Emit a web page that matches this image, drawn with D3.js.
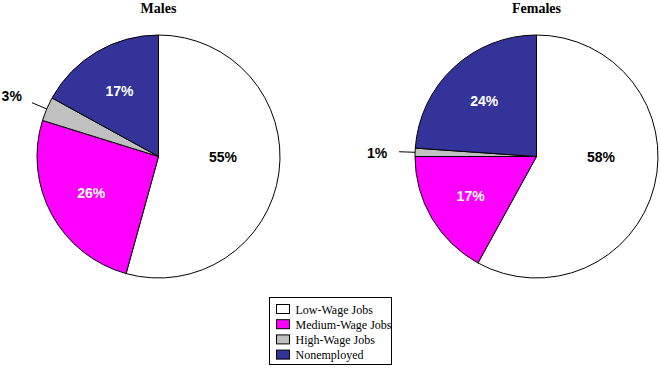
<!DOCTYPE html>
<html>
<head>
<meta charset="utf-8">
<script src="https://cdn.jsdelivr.net/npm/d3@7"></script>
<style>
  body { margin: 0; background: #fff; }
</style>
</head>
<body>
<script>
const categories = ['Low-Wage Jobs', 'Medium-Wage Jobs', 'High-Wage Jobs', 'Nonemployed'];
const malesValues = [54.3, 25.5, 3.2, 17];
const malesLabels = ['55%', '26%', '3%', '17%'];
const femalesValues = [58, 17, 1.1, 23.9];
const femalesLabels = ['58%', '17%', '1%', '24%'];
const colors = ['#FFFFFF', '#FF00FF', '#C0C0C0', '#333399'];
const labelColors = ['#000', '#fff', '#000', '#fff'];

const width = 661;
const height = 368;
const radius = 121.5;

const svg = d3.select('body').append('svg')
  .attr('width', width)
  .attr('height', height);

const color = d3.scaleOrdinal().domain(categories).range(colors);

const pie = d3.pie().sort(null).value(d => d.value);
const arc = d3.arc().innerRadius(0).outerRadius(radius);

const labelFont = '"Liberation Sans", Arial, sans-serif';

const drawPie = (title, values, labels, cx, cy) => {
  const data = categories.map((c, i) => ({ cat: c, value: values[i], label: labels[i], i }));
  const g = svg.append('g').attr('transform', `translate(${cx},${cy})`);

  svg.append('text')
    .attr('x', cx)
    .attr('y', 13)
    .attr('text-anchor', 'middle')
    .style('font-family', '"Liberation Serif", "Times New Roman", serif')
    .style('font-weight', 'bold')
    .style('font-size', '14px')
    .text(title);

  const arcs = pie(data);

  g.selectAll('path')
    .data(arcs)
    .join('path')
    .attr('d', arc)
    .attr('fill', d => color(d.data.cat))
    .attr('stroke', '#000')
    .attr('stroke-width', 1);

  arcs.forEach(d => {
    const span = d.endAngle - d.startAngle;
    const share = span / (2 * Math.PI);
    if (share < 0.05) {
      // small slice: label outside with a leader line
      const mid = (d.startAngle + d.endAngle) / 2;
      const x0 = Math.sin(mid) * radius, y0 = -Math.cos(mid) * radius;
      const x1 = Math.sin(mid) * (radius + 16), y1 = -Math.cos(mid) * (radius + 16);
      const xt = Math.sin(mid) * (radius + 38), yt = -Math.cos(mid) * (radius + 38);
      g.append('line')
        .attr('x1', x0).attr('y1', y0)
        .attr('x2', x1).attr('y2', y1)
        .attr('stroke', '#000');
      g.append('text')
        .attr('x', xt)
        .attr('y', yt + 2)
        .attr('text-anchor', 'middle')
        .attr('dy', '0.36em')
        .style('font-family', labelFont)
        .style('font-weight', 'bold')
        .style('font-size', '14px')
        .attr('fill', '#000')
        .text(d.data.label);
    } else {
      // slices over half: put the label in the middle of their first half-turn
      const big = span > Math.PI;
      const a = big ? d.startAngle + Math.PI / 2 : (d.startAngle + d.endAngle) / 2;
      const r = big ? radius * 0.53 : radius * 0.63;
      g.append('text')
        .attr('x', Math.sin(a) * r)
        .attr('y', -Math.cos(a) * r)
        .attr('text-anchor', 'middle')
        .attr('dy', '0.36em')
        .style('font-family', labelFont)
        .style('font-weight', 'bold')
        .style('font-size', '14px')
        .attr('fill', labelColors[d.data.i])
        .text(d.data.label);
    }
  });
};

drawPie('Males', malesValues, malesLabels, 158.5, 156.5);
drawPie('Females', femalesValues, femalesLabels, 536.5, 156.5);

// legend
const legend = svg.append('g').attr('transform', 'translate(269.5,297.5)');
legend.append('rect')
  .attr('width', 122)
  .attr('height', 67)
  .attr('fill', '#fff')
  .attr('stroke', '#000');

const rows = legend.selectAll('g.row')
  .data(categories)
  .join('g')
  .attr('class', 'row')
  .attr('transform', (d, i) => `translate(7,${7 + i * 15.2})`);

rows.append('rect')
  .attr('width', 13)
  .attr('height', 9)
  .attr('fill', d => color(d))
  .attr('stroke', '#000');

rows.append('text')
  .attr('x', 19)
  .attr('y', 5)
  .attr('dy', '0.35em')
  .style('font-family', '"Liberation Serif", "Times New Roman", serif')
  .style('font-size', '12px')
  .text(d => d);
</script>
</body>
</html>
